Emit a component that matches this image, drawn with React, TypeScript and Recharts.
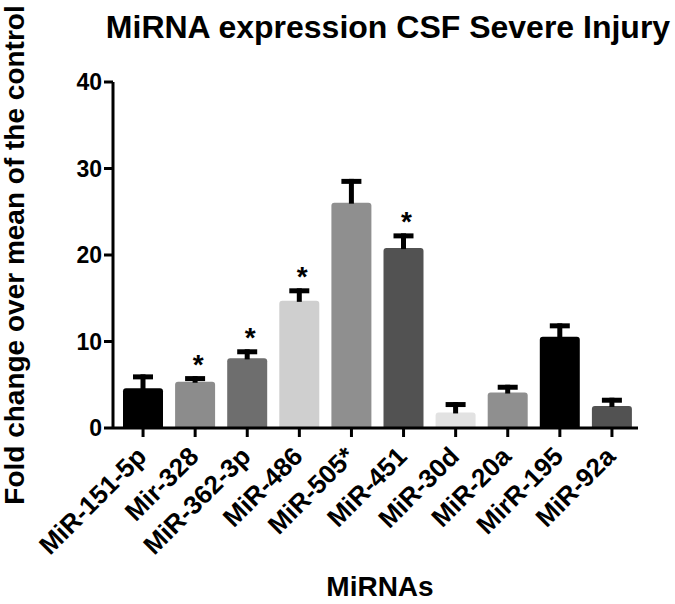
import React from "react"
import { Bar, BarChart, Cell, XAxis, YAxis } from "recharts"

const categories = [
  "MiR-151-5p",
  "Mir-328",
  "MiR-362-3p",
  "MiR-486",
  "MiR-505*",
  "MiR-451",
  "MiR-30d",
  "MiR-20a",
  "MirR-195",
  "MiR-92a",
]
const means = [4.6, 5.35, 8.05, 14.7, 26.05, 20.8, 1.8, 4.1, 10.55, 2.55]
const sem = [1.6, 0.65, 1.05, 1.45, 2.75, 1.7, 1.2, 0.9, 1.55, 0.95]
const significant = [false, true, true, true, false, true, false, false, false, false]
const yTicks = [0, 10, 20, 30, 40]

const barColors = [
  "#000000",
  "#8c8c8c",
  "#6e6e6e",
  "#cfcfcf",
  "#8f8f8f",
  "#525252",
  "#e2e2e2",
  "#8f8f8f",
  "#000000",
  "#525252",
]

const FONT = '"Liberation Sans", Arial, sans-serif'

const data = categories.map((name, i) => ({
  name,
  value: means[i],
  err: sem[i],
  sig: significant[i],
}))

// bar with rounded top + one-sided error bar + significance star
const BarWithError = (props: any) => {
  const { x, y, width, height, fill, payload } = props
  if (!height || height <= 0) return null
  const r = 3
  const cx = x + width / 2
  const perUnit = height / payload.value
  const errTop = y - payload.err * perUnit
  const d = `M${x},${y + height} L${x},${y + r} Q${x},${y} ${x + r},${y} L${x + width - r},${y} Q${x + width},${y} ${x + width},${y + r} L${x + width},${y + height} Z`
  return (
    <g>
      <path d={d} fill={fill} />
      <line x1={cx} x2={cx} y1={y + 1} y2={errTop} stroke="#000" strokeWidth={5} />
      <line x1={cx - 10} x2={cx + 10} y1={errTop + 2.5} y2={errTop + 2.5} stroke="#000" strokeWidth={5} />
      {payload.sig && (
        <text x={cx + 3} y={errTop - 2} textAnchor="middle" fontSize={28} fontWeight="bold" fontFamily={FONT} fill="#000">
          *
        </text>
      )}
    </g>
  )
}

const XTick = (props: any) => {
  const { x, y, payload } = props
  const ex = x + 5
  const ey = y + 19
  return (
    <text
      x={ex}
      y={ey}
      textAnchor="end"
      transform={`rotate(-45 ${ex} ${ey})`}
      fontSize={26}
      fontWeight="bold"
      fontFamily={FONT}
      fill="#000"
    >
      {payload.value}
    </text>
  )
}

export default function App() {
  return (
    <div style={{ position: "absolute", left: 0, top: 0, background: "#fff" }}>
      <BarChart
        width={675}
        height={604}
        data={data}
        margin={{ top: 82, right: 37, bottom: 0, left: 53 }}
        barSize={40}
      >
        <XAxis
          dataKey="name"
          interval={0}
          padding={{ left: 4, right: 0 }}
          axisLine={{ stroke: "#000", strokeWidth: 3 }}
          tickLine={{ stroke: "#000", strokeWidth: 3 }}
          tickSize={9}
          tick={<XTick />}
          height={176}
        />
        <YAxis
          domain={[0, 40]}
          ticks={yTicks}
          width={60}
          axisLine={{ stroke: "#000", strokeWidth: 3 }}
          tickLine={{ stroke: "#000", strokeWidth: 3 }}
          tickSize={9}
          tick={{ fill: "#000", fontSize: 23, fontWeight: "bold", fontFamily: FONT }}
        />
        <Bar dataKey="value" shape={<BarWithError />} isAnimationActive={false}>
          {data.map((d, i) => (
            <Cell key={d.name} fill={barColors[i]} />
          ))}
        </Bar>
        <text x={388} y={38} textAnchor="middle" fontSize={32} fontWeight="bold" fontFamily={FONT} fill="#000">
          MiRNA expression CSF Severe Injury
        </text>
        <text
          x={24}
          y={255}
          textAnchor="middle"
          transform="rotate(-90 24 255)"
          fontSize={28}
          fontWeight="bold"
          fontFamily={FONT}
          fill="#000"
        >
          Fold change over mean of the control
        </text>
        <text x={380} y={596} textAnchor="middle" fontSize={28} fontWeight="bold" fontFamily={FONT} fill="#000">
          MiRNAs
        </text>
      </BarChart>
    </div>
  )
}
